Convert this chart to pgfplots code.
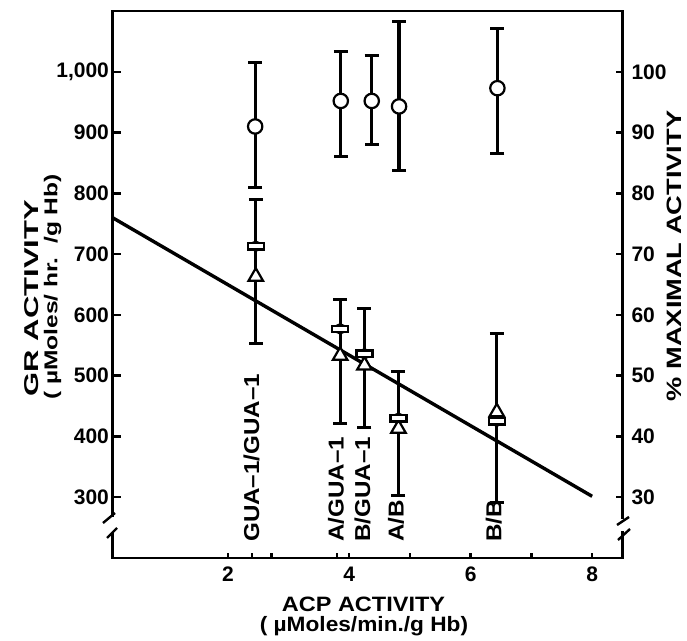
\documentclass[border=0pt]{standalone}
\usepackage{fontspec}
\setmainfont{Liberation Sans}
\usepackage{pgfplots}
\usepackage{pgfplotstable}
\pgfplotsset{compat=1.18}

% GR activity: squares, triangles, one bar from top cap to bottom cap
\pgfplotstableread{
x     sq    tri   ep    em
2.46  713   663   77    160
3.85  577   533   48    155
4.25  536   517   74    122
4.81  430   413   77    127
6.43  425   440   145   134
}\grdata

% % maximal activity: circles
\pgfplotstableread{
x     pct   ep    em
2.45  91.0  10.5  10.0
3.86  95.2  8.1   9.2
4.37  95.2  7.5   7.2
4.82  94.3  13.9  10.5
6.44  97.3  9.9   10.7
}\pctdata

\newcommand\sx[2]{\scalebox{#1}[1]{#2}}

\pgfplotsset{
  base/.style={
    at={(0,0)}, anchor=south west, scale only axis,
    width=255pt, height=273.5pt,
    xmin=0.1, xmax=8.5,
    tick align=inside,
    every tick/.style={black, line width=1.2pt},
    axis line style={line width=1.4pt},
    tick label style={font=\fontsize{10.5}{12}\selectfont\bfseries},
    /pgf/number format/assume math mode=true,
  },
  every error bar/.append style={line width=1.6pt},
}

\begin{document}
\begin{tikzpicture}
\path[use as bounding box] (-56.25pt,-41.5pt) rectangle (287.25pt,279pt);

\begin{axis}[base,
  ymin=200, ymax=1100,
  xtick={2,4,6,8}, minor xtick={2.4,2.72,3.8,5,7},
  xtick pos=bottom, ytick=\empty,
  major tick length=2.5pt, minor tick length=2.5pt,
  every minor tick/.style={black, line width=1.2pt},
  xticklabel style={yshift=-1pt},
  clip=false,
]
\addplot[black, only marks, mark=none, forget plot, line width=1.6pt,
  error bars/y dir=both, error bars/y explicit,
  error bars/error bar style={line width=1.6pt, solid},
  error bars/error mark options={rotate=90, line width=1.5pt, mark size=3.5pt}]
  table[x=x, y=sq, y error plus=ep, y error minus=em] {\grdata};
\addplot[black, line width=1.7pt] coordinates {(0.1,760) (8,301.5)};
\addplot[only marks, mark=triangle*, mark size=4.2pt,
  mark options={draw=black, fill=white, line width=1.1pt}]
  table[x=x, y=tri] {\grdata};
\addplot[only marks, mark=square*, mark size=1.6pt,
  mark options={draw=black, fill=white, line width=1.1pt, xscale=2.5, rounded corners=0.6pt}]
  table[x=x, y=sq] {\grdata};

\begin{scope}[every node/.style={rotate=90, anchor=west, inner sep=0pt,
    font=\fontsize{10.8}{12}\selectfont\bfseries}]
\node at (axis cs:2.39,226) {\sx{1.12}{GUA--1/GUA--1}};
\node at (axis cs:3.78,226) {\sx{1.12}{A/GUA--1}};
\node at (axis cs:4.22,226) {\sx{1.12}{B/GUA--1}};
\node at (axis cs:4.77,226) {\sx{1.12}{A/B}};
\node at (axis cs:6.38,226) {\sx{1.12}{B/B}};
\end{scope}
\end{axis}

\begin{axis}[base,
  ymin=200, ymax=1100,
  hide x axis, axis y line*=left, y axis line style={-},
  ytick={300,400,...,1000},
  major tick length=4.5pt,
  scaled y ticks=false,
  yticklabel style={/pgf/number format/1000 sep={,}, xshift=1.75pt},
]
\end{axis}

\begin{axis}[base,
  ymin=20, ymax=110,
  hide x axis, axis y line*=right, y axis line style={-},
  ytick={30,40,...,100},
  major tick length=3pt,
  yticklabel style={xshift=1pt},
]
\addplot[black, only marks, mark=none, forget plot, line width=1.6pt,
  error bars/y dir=both, error bars/y explicit,
  error bars/error bar style={line width=1.6pt, solid},
  error bars/error mark options={rotate=90, line width=1.5pt, mark size=3.5pt}]
  table[x=x, y=pct, y error plus=ep, y error minus=em] {\pctdata};
\addplot[only marks, mark=*, mark size=3.6pt,
  mark options={draw=black, fill=white, line width=1.1pt}]
  table[x=x, y=pct] {\pctdata};
\end{axis}

% axis breaks
\fill[white] (-3pt,13pt) rectangle (3pt,20.5pt);
\draw[line width=1.2pt] (-4.75pt,17.5pt) -- (1.25pt,22.5pt);
\draw[line width=1.2pt] (-2.75pt,10pt) -- (2.25pt,15pt);
\fill[white] (252pt,13.5pt) rectangle (258pt,19.5pt);
\draw[line width=1.2pt] (252.25pt,16.5pt) -- (258.25pt,20.5pt);
\draw[line width=1.2pt] (252.75pt,9pt) -- (258.75pt,14.5pt);

% axis titles
\begin{scope}[every node/.style={inner sep=0pt, font=\fontsize{10}{12}\selectfont\bfseries}]
\node[rotate=90] at (-40.5pt,130pt) {\sx{1.55}{GR ACTIVITY}};
\node[rotate=90, font=\fontsize{9.3}{11}\selectfont\bfseries] at (-30pt,135.5pt) {\sx{1.32}{( µMoles/ hr.\ \ /g Hb)}};
\node[rotate=90, font=\fontsize{10.4}{12}\selectfont\bfseries] at (280.75pt,151pt) {\sx{1.31}{\% MAXIMAL ACTIVITY}};
\node[font=\fontsize{10.4}{12}\selectfont\bfseries] at (125.5pt,-23.25pt) {\sx{1.13}{ACP ACTIVITY}};
\node[font=\fontsize{10.4}{12}\selectfont\bfseries] at (125.75pt,-34pt) {\sx{1.09}{( µMoles/min./g Hb)}};
\end{scope}
\end{tikzpicture}
\end{document}
